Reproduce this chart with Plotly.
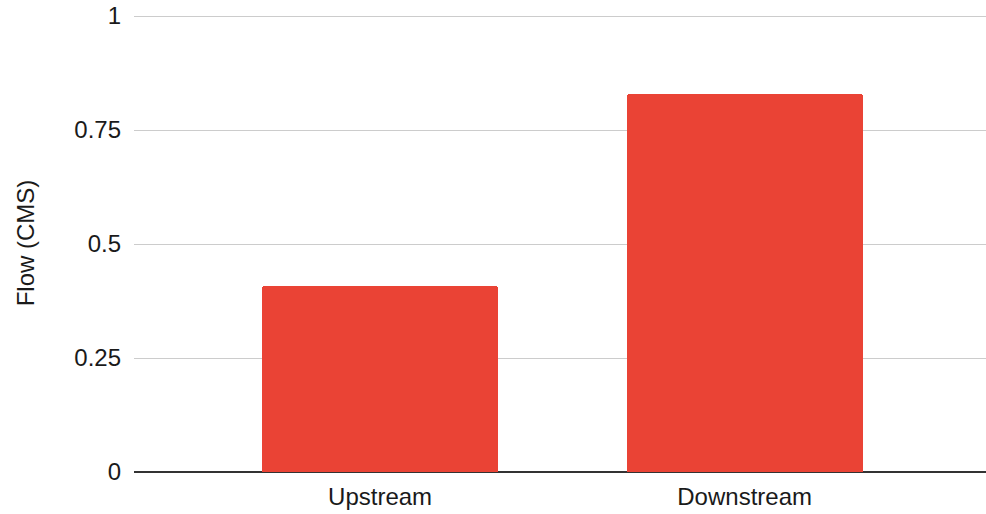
import plotly.graph_objects as go

categories = ["Upstream", "Downstream"]
flow_cms = [0.408, 0.828]
y_ticks = [0, 0.25, 0.5, 0.75, 1]
y_tick_labels = ["0", "0.25", "0.5", "0.75", "1"]

fig = go.Figure()
fig.add_trace(go.Bar(
    x=[0, 1],
    y=flow_cms,
    width=0.647,
    marker=dict(color="#EA4335", line=dict(width=0), cornerradius=3),
    hoverinfo="skip",
))

fig.update_layout(
    width=986, height=514,
    margin=dict(l=134, r=0, t=14, b=42, pad=0),
    paper_bgcolor="white", plot_bgcolor="white",
    font=dict(family="Liberation Sans, Arial, sans-serif", size=24, color="#1a1a1a"),
    showlegend=False,
    bargap=0,
)
fig.update_xaxes(
    range=[-0.675, 1.662],
    tickmode="array", tickvals=[0, 1], ticktext=categories,
    showgrid=False, zeroline=False, showline=False,
    ticks="", ticklabelstandoff=8,
    tickfont=dict(size=24, color="#1a1a1a"),
)
fig.update_yaxes(
    range=[0, 1.0044],
    tickmode="array", tickvals=y_ticks, ticktext=y_tick_labels,
    showgrid=True, gridcolor="#CCCCCC", gridwidth=1,
    zeroline=True, zerolinecolor="#333333", zerolinewidth=1.5,
    showline=False, ticks="", ticklabelstandoff=12,
    tickfont=dict(size=24, color="#1a1a1a"),
    title=dict(text="Flow (CMS)", font=dict(size=24, color="#1a1a1a"), standoff=32),
)

fig.write_html(
    "out.html",
    config={"displayModeBar": False},
    post_script="document.body.style.margin='0';document.body.style.overflow='hidden';",
)
